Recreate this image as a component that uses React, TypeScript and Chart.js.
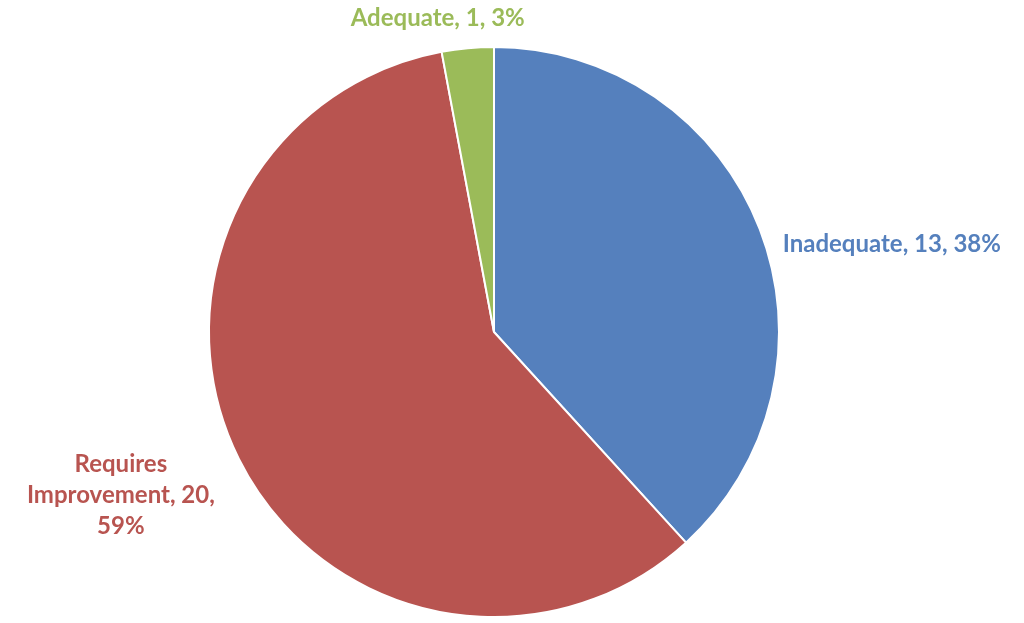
import React, { useEffect, useRef } from "react";
import { Chart, registerables } from "chart.js";

Chart.register(...registerables);

const categories = ["Inadequate", "Requires Improvement", "Adequate"];
const counts = [13, 20, 1];
const percents = ["38%", "59%", "3%"];
const sliceColors = ["#5580BD", "#B85450", "#9BBB59"];
// label text lines for each slice
const labelLines = [
  ["Inadequate, 13, 38%"],
  ["Requires", "Improvement, 20,", "59%"],
  ["Adequate, 1, 3%"],
];
// label placement relative to the slice's outer mid-point: [dx, dy, align]
const labelPlacement: [number, number, CanvasTextAlign][] = [
  [23, 15, "left"],
  [-118, 36, "center"],
  [-30, -30, "center"],
];

const labelPlugin = {
  id: "sliceLabels",
  afterDraw(chart: any) {
    const ctx = chart.ctx;
    const meta = chart.getDatasetMeta(0);
    ctx.save();
    ctx.font = "bold 24px Lato";
    ctx.textBaseline = "middle";
    meta.data.forEach((arc: any, i: number) => {
      const { x, y, startAngle, endAngle, outerRadius } = arc.getProps(
        ["x", "y", "startAngle", "endAngle", "outerRadius"],
        true
      );
      const mid = (startAngle + endAngle) / 2;
      const ax = x + Math.cos(mid) * outerRadius;
      const ay = y + Math.sin(mid) * outerRadius;
      const [dx, dy, align] = labelPlacement[i];
      const lines = labelLines[i];
      const lh = 31;
      ctx.fillStyle = sliceColors[i];
      ctx.textAlign = align;
      const cy = ay + dy;
      lines.forEach((ln, k) => {
        ctx.fillText(ln, ax + dx, cy + (k - (lines.length - 1) / 2) * lh);
      });
    });
    ctx.restore();
  },
};

export default function App() {
  const ref = useRef<HTMLCanvasElement>(null);
  useEffect(() => {
    const chart = new Chart(ref.current!, {
      type: "pie",
      data: {
        labels: categories,
        datasets: [
          {
            data: counts,
            backgroundColor: sliceColors,
            borderColor: "#ffffff",
            borderWidth: 2,
            hoverOffset: 0,
          },
        ],
      },
      options: {
        animation: false,
        responsive: true,
        maintainAspectRatio: false,
        layout: { padding: { left: 194, right: 230, top: 46, bottom: 5 } },
        plugins: {
          legend: { display: false },
          tooltip: { enabled: false },
        },
      },
      plugins: [labelPlugin],
    });
    return () => chart.destroy();
  }, []);
  return (
    <div
      style={{
        position: "absolute",
        left: 0,
        top: 0,
        width: 1024,
        height: 623,
        background: "#ffffff",
      }}
    >
      <canvas ref={ref} />
    </div>
  );
}
